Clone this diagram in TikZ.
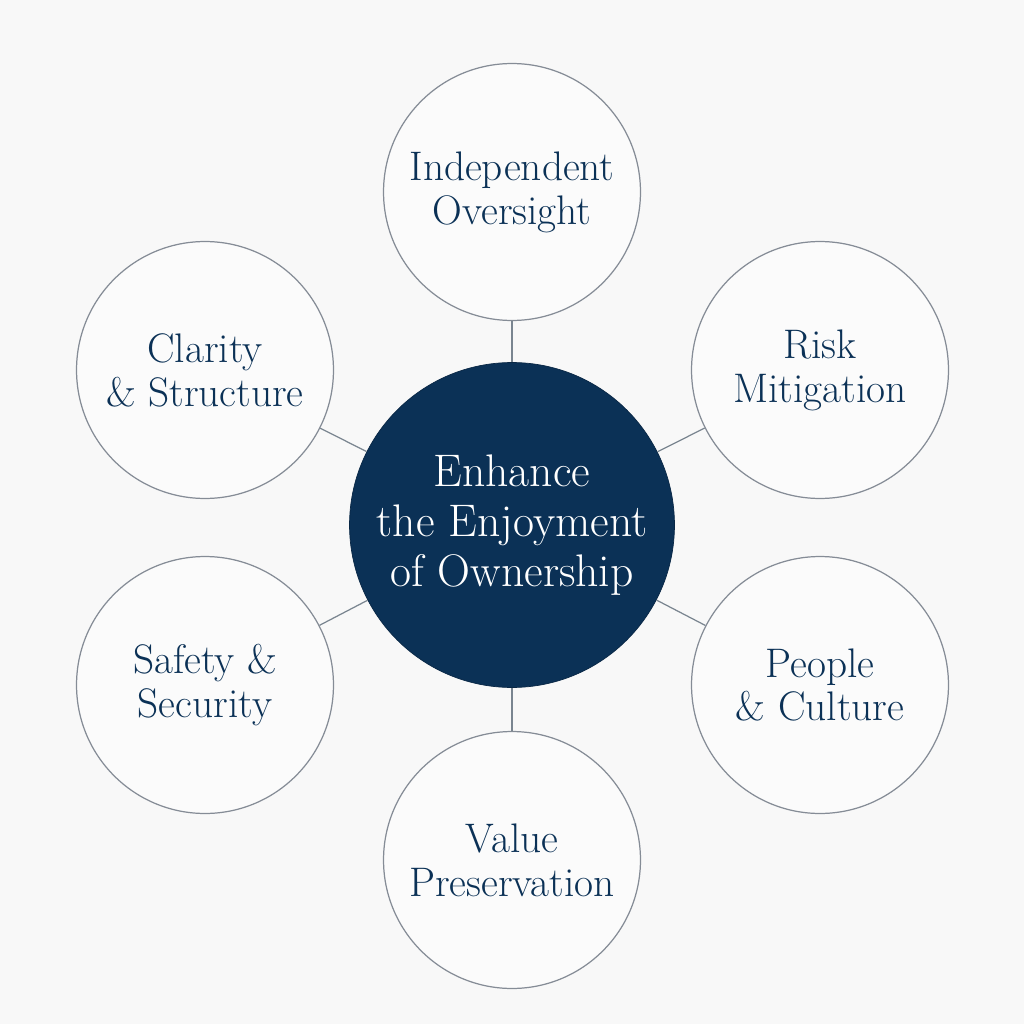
\documentclass[tikz,border=0pt]{standalone}
\usepackage{tikz}

\definecolor{navy}{HTML}{0B3156}
\definecolor{ringgray}{HTML}{858C96}
\definecolor{linkgray}{HTML}{7A8590}
\definecolor{bggray}{HTML}{F8F8F8}

\begin{document}
\begin{tikzpicture}[
    x=0.02cm, y=-0.02cm,
    pillar/.style={
        circle,
        draw=ringgray,
        line width=0.7pt,
        fill=white!50!bggray,
        minimum size=5.14cm,
        inner sep=0pt,
        align=center,
        text=navy,
        font=\fontsize{23.5}{25}\selectfont
    },
    hub/.style={
        circle,
        fill=navy,
        draw=navy!80!black,
        minimum size=6.5cm,
        inner sep=0pt,
        align=center,
        text=white,
        font=\fontsize{26}{28.5}\selectfont
    },
    link/.style={draw=linkgray, line width=0.7pt}
]
\fill[bggray] (0,0) rectangle (1024,1024);
\useasboundingbox (0,0) rectangle (1024,1024);

% centre
\node[hub] (goal) at (512,525) {Enhance\\the Enjoyment\\of Ownership};

% pillars round the centre
\node[pillar] (oversight) at (512,192) {Independent\\Oversight};
\node[pillar] (risk) at (820,370) {Risk\\Mitigation};
\node[pillar] (clarity) at (205,370) {Clarity\\\& Structure};
\node[pillar] (safety) at (205,685) {Safety \&\\Security};
\node[pillar] (people) at (820,685) {People\\\& Culture};
\node[pillar] (value) at (512,860) {Value\\Preservation};

\foreach \p in {oversight,risk,clarity,safety,people,value}
    \draw[link] (goal) -- (\p);
\end{tikzpicture}
\end{document}
